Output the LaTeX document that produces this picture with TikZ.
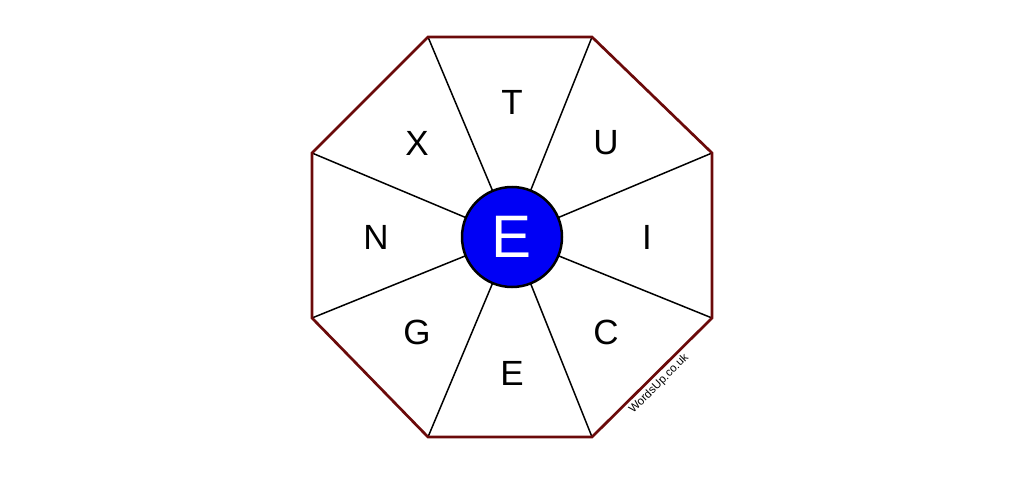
\documentclass[tikz,border=0pt]{standalone}
\usepackage{fontspec}
\setmainfont{Liberation Sans}
\definecolor{octred}{HTML}{6B0A0A}
\definecolor{hubblue}{HTML}{0000F5}
\begin{document}
\begin{tikzpicture}[x=1pt,y=-1pt,
  letter/.style={font=\fontsize{35}{35}\selectfont, inner sep=0pt},
  spoke/.style={draw=black, line width=1.5pt},
  rim/.style={draw=octred, line width=2.7pt, line join=miter}]
\useasboundingbox (0,0) rectangle (1024,476);
\coordinate (v1) at (428,37);
\coordinate (v2) at (592,37);
\coordinate (v3) at (712,153);
\coordinate (v4) at (712,318);
\coordinate (v5) at (592,437);
\coordinate (v6) at (428,437);
\coordinate (v7) at (312,318);
\coordinate (v8) at (312,153);
\node[circle, minimum size=100pt, inner sep=0pt] (hub) at (512,237) {};
\foreach \v in {v1,v2,v3,v4,v5,v6,v7,v8} \draw[spoke] (\v) -- (hub);
\draw[rim] (v1) -- (v2) -- (v3) -- (v4) -- (v5) -- (v6) -- (v7) -- (v8) -- cycle;
\node[circle, draw=black, fill=hubblue, line width=2.5pt, minimum size=100pt, inner sep=0pt,
  text=white, font=\fontsize{60}{60}\selectfont] (hubc) at (512,237) {E};
\node[letter] (t) at (512,102) {T};
\node[letter] (u) at (606,143) {U};
\node[letter] (i) at (647,237) {I};
\node[letter] (c) at (606,332) {C};
\node[letter] (e) at (512,373) {E};
\node[letter] (g) at (417,332) {G};
\node[letter] (n) at (376,237) {N};
\node[letter] (x) at (417,143) {X};
\node[rotate=45, font=\fontsize{11.5}{11.5}\selectfont, inner sep=0pt] (wm) at (659,384) {WordsUp.co.uk};
\end{tikzpicture}
\end{document}
